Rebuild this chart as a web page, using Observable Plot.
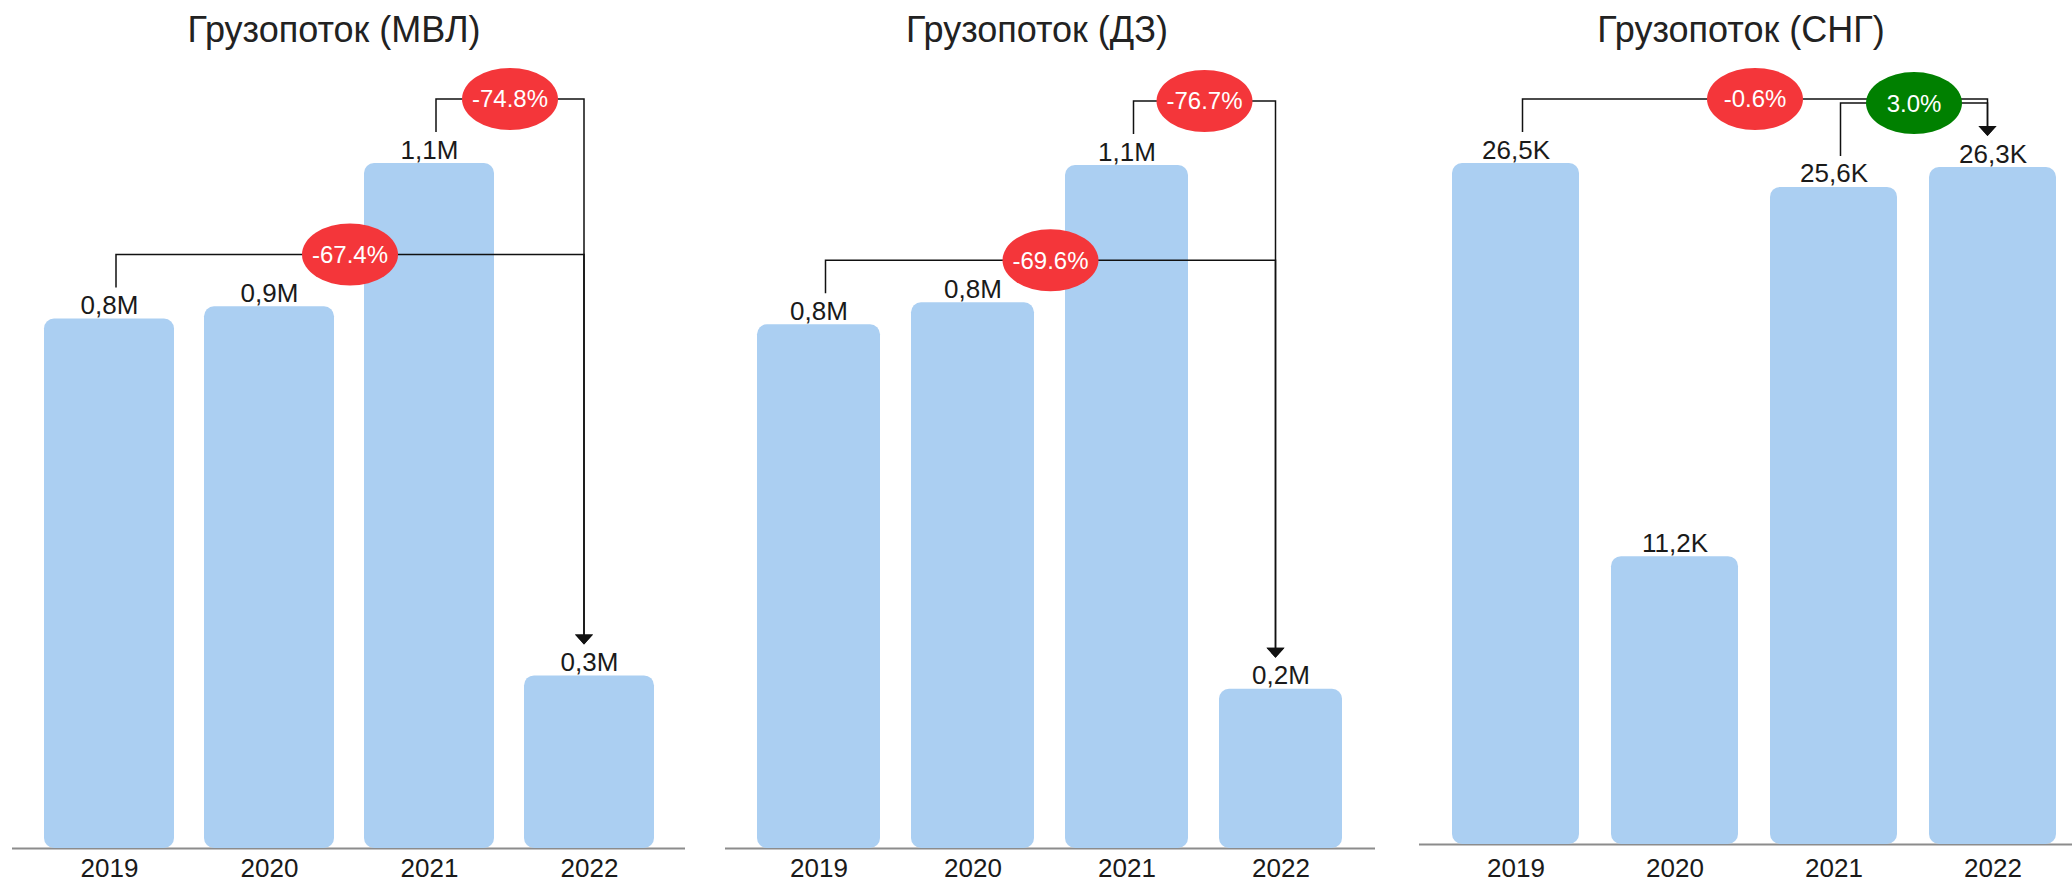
<!DOCTYPE html>
<html>
<head>
<meta charset="utf-8">
<script src="https://cdn.jsdelivr.net/npm/d3@7"></script>
<script src="https://cdn.jsdelivr.net/npm/@observablehq/plot@0.6"></script>
<style>
  html, body { margin: 0; padding: 0; background: #fff; overflow: hidden; width: 2072px; height: 882px; }
  #root { position: relative; width: 2072px; height: 882px; overflow: hidden; font-family: "Liberation Sans", Arial, sans-serif; }
  .panel { position: absolute; top: 0; width: 700px; height: 882px; }
  .title { position: absolute; top: 0; height: 60px; width: 600px; text-align: center; font-size: 36px; line-height: 36px; color: #222; padding-top: 12px; box-sizing: border-box; white-space: nowrap; }
  .chart { position: absolute; top: 60px; left: 0; }
</style>
</head>
<body>
<div id="root"></div>
<script>
// ---- data ----
const years = ["2019", "2020", "2021", "2022"];
const titles = ["Грузопоток (МВЛ)", "Грузопоток (ДЗ)", "Грузопоток (СНГ)"];
const mvlValues = [838700, 858000, 1085000, 273400];
const dzValues = [809000, 843000, 1055000, 246000];
const sngValues = [26500, 11200, 25570, 26340];
const mvlChanges = [
  {from: "2021", to: "2022", label: "-74.8%"},
  {from: "2019", to: "2022", label: "-67.4%"}
];
const dzChanges = [
  {from: "2021", to: "2022", label: "-76.7%"},
  {from: "2019", to: "2022", label: "-69.6%"}
];
const sngChanges = [
  {from: "2019", to: "2022", label: "-0.6%"},
  {from: "2021", to: "2022", label: "3.0%"}
];
const unitSuffix = ["M", "M", "K"];
const unitDivisor = [1e6, 1e6, 1e3];

// ---- layout ----
const layouts = [
  {left: 0,    titleLeft: 34, mL: 12, mR: 15, mT: 103, mB: 34, tp: 10, pad: 0.19},
  {left: 700,  titleLeft: 37, mL: 25, mR: 25, mT: 105, mB: 34, tp: 10, pad: 0.2},
  {left: 1400, titleLeft: 41, mL: 19, mR: 11, mT: 103, mB: 38, tp: 14, pad: 0.2}
];
const FONT = "'Liberation Sans', Arial, sans-serif";
const BAR = "#abcff2";
const RED = "#f4363a";
const GREEN = "#008000";

function bracketMark(changes, values) {
  const byYear = new Map(years.map((yr, i) => [yr, values[i]]));
  return (index, scales) => {
    const {x, y} = scales;
    const bw = x.bandwidth ? x.bandwidth() : 0;
    const cx = c => x(c) + bw / 2;
    const g = d3.create("svg:g");
    const geo = changes.map(c => {
      const vF = byYear.get(c.from), vT = byYear.get(c.to);
      const x1 = cx(c.from) + 7, x2 = cx(c.to) - 5;
      return {
        c, x1, x2,
        level: y(Math.max(vF, vT)) - 64,
        legEnd: y(vF) - 31,
        tip: y(vT) - 31
      };
    });
    for (const d of geo) {
      g.append("path")
        .attr("d", `M${d.x1},${d.legEnd}V${d.level}H${d.x2}V${d.tip - 8}`)
        .attr("fill", "none").attr("stroke", "#111").attr("stroke-width", 1.5);
      g.append("path")
        .attr("d", `M${d.x2 - 9},${d.tip - 10}H${d.x2 + 9}L${d.x2},${d.tip}Z`)
        .attr("fill", "#111");
    }
    for (const d of geo) {
      const mx = (d.x1 + d.x2) / 2;
      const neg = d.c.label.trim().startsWith("-");
      g.append("ellipse")
        .attr("cx", mx).attr("cy", d.level).attr("rx", 48).attr("ry", 31)
        .attr("fill", neg ? RED : GREEN);
      g.append("text")
        .attr("x", mx).attr("y", d.level).attr("dy", "0.35em")
        .attr("text-anchor", "middle").attr("fill", "#fff")
        .attr("font-size", 24).attr("font-family", FONT)
        .text(d.c.label);
    }
    return g.node();
  };
}

const allValues = [mvlValues, dzValues, sngValues];
const allChanges = [mvlChanges, dzChanges, sngChanges];
const root = document.getElementById("root");

allValues.forEach((vals, p) => {
  const L = layouts[p];
  const data = years.map((yr, i) => ({year: yr, value: vals[i]}));
  const fmt = v => (v / unitDivisor[p]).toFixed(1).replace(".", ",") + unitSuffix[p];

  const panel = document.createElement("div");
  panel.className = "panel";
  panel.style.left = L.left + "px";
  const title = document.createElement("div");
  title.className = "title";
  title.style.left = L.titleLeft + "px";
  title.textContent = titles[p];
  panel.appendChild(title);

  const chart = Plot.plot({
    width: 700,
    height: 822,
    marginLeft: L.mL,
    marginRight: L.mR,
    marginTop: L.mT,
    marginBottom: L.mB,
    style: {fontFamily: FONT, fontSize: "26px", color: "#1a1a1a", background: "transparent", overflow: "visible"},
    x: {domain: years, padding: L.pad, tickSize: 0, tickPadding: L.tp, label: null},
    y: {domain: [0, d3.max(vals)], axis: null, nice: false},
    marks: [
      Plot.ruleY([0], {stroke: "#8c8c8c", strokeWidth: 2}),
      Plot.barY(data, {x: "year", y: "value", fill: BAR, rx: 10}),
      Plot.text(data, {x: "year", y: "value", text: d => fmt(d.value), dy: -5, lineAnchor: "bottom", fontSize: 26, fill: "#1a1a1a"}),
      bracketMark(allChanges[p], vals)
    ]
  });
  const wrap = document.createElement("div");
  wrap.className = "chart";
  wrap.appendChild(chart);
  panel.appendChild(wrap);
  root.appendChild(panel);
});
</script>
</body>
</html>
